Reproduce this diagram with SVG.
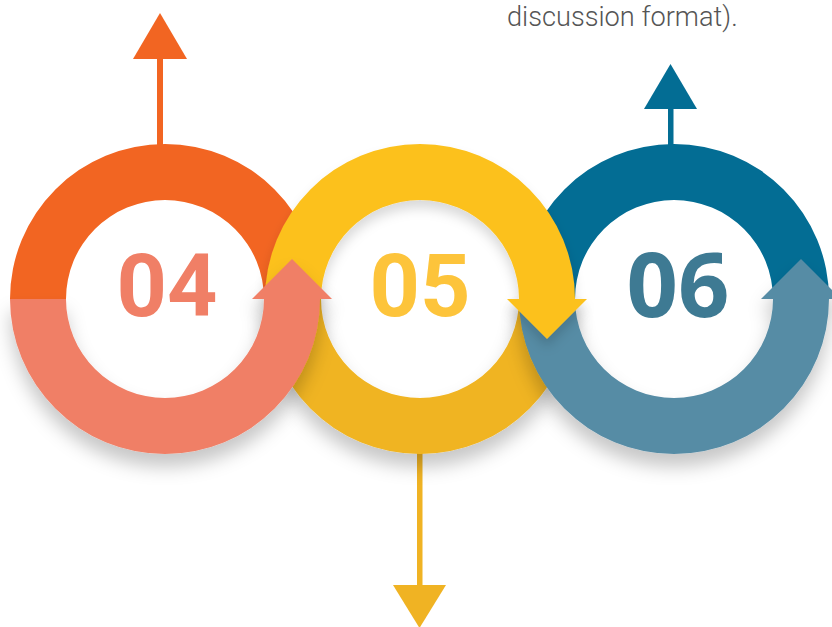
<svg xmlns="http://www.w3.org/2000/svg" width="832" height="627" viewBox="0 0 832 627">
  <style>
    .num { font-family: Roboto, "Liberation Sans", sans-serif; font-weight: 700; font-size: 88px; text-anchor: middle; }
    .cap { font-family: Roboto, "Liberation Sans", sans-serif; font-weight: 300; font-size: 27.2px; fill: #555555; }
  </style>
  <defs>
    <filter id="sh" x="-20%" y="-20%" width="140%" height="160%">
      <feDropShadow dx="0" dy="13" stdDeviation="9" flood-color="#000" flood-opacity="0.22"/>
    </filter>
    <filter id="shs" x="-20%" y="-20%" width="140%" height="160%">
      <feDropShadow dx="0" dy="8" stdDeviation="6" flood-color="#000" flood-opacity="0.15"/>
    </filter>
  </defs>
  <rect width="832" height="627" fill="#fff"/>

  <g id="connectors">
    <rect x="157" y="58" width="6" height="92" fill="#F26522"/>
    <polygon points="133,59 187,59 160,13" fill="#F26522"/>
    <rect x="417" y="448" width="5.5" height="138" fill="#F0B323"/>
    <polygon points="393,585 446,585 419.5,628" fill="#F0B323"/>
    <rect x="668" y="108" width="5.5" height="40" fill="#036D94"/>
    <polygon points="644,109 697,109 670.5,64" fill="#036D94"/>
  </g>

  <g id="node-04-back">
    <path d="M10 299 A155 155 0 0 1 320 299 L264 299 A99 99 0 0 0 66 299 Z" fill="#F26522"/>
  </g>
  <g id="node-06-back">
    <path d="M519 299 A155 155 0 0 1 829 299 L773 299 A99 99 0 0 0 575 299 Z" fill="#036D94"/>
  </g>
  <g id="node-05-back">
    <path d="M265 299 A155 155 0 0 0 575 299 L519 299 A99 99 0 0 1 321 299 Z" fill="#F0B420" filter="url(#sh)"/>
  </g>

  <g id="node-06">
    <path d="M519 299 A155 155 0 0 0 829 299 L841 299 L801 259 L761 299 L773 299 A99 99 0 0 1 575 299 Z" fill="#578CA5" filter="url(#sh)"/>
    <text x="678" y="317" class="num" style="font-family:'Open Sans','Noto Sans',sans-serif;font-size:90px" fill="#3E7A93">06</text>
  </g>

  <g id="node-05">
    <path d="M265 299 A155 155 0 0 1 575 299 L587 299 L547 339 L507 299 L519 299 A99 99 0 0 0 321 299 Z" fill="#FCC11F" filter="url(#shs)"/>
    <text x="420" y="316" class="num" fill="#FDC43B">05</text>
  </g>

  <g id="node-04">
    <path d="M10 299 A155 155 0 0 0 320 299 L332 299 L292 259 L252 299 L264 299 A99 99 0 0 1 66 299 Z" fill="#F07F66" filter="url(#sh)"/>
    <text x="167" y="316" class="num" fill="#F07F66">04</text>
  </g>

  <text x="507" y="26" class="cap">discussion format).</text>
</svg>
